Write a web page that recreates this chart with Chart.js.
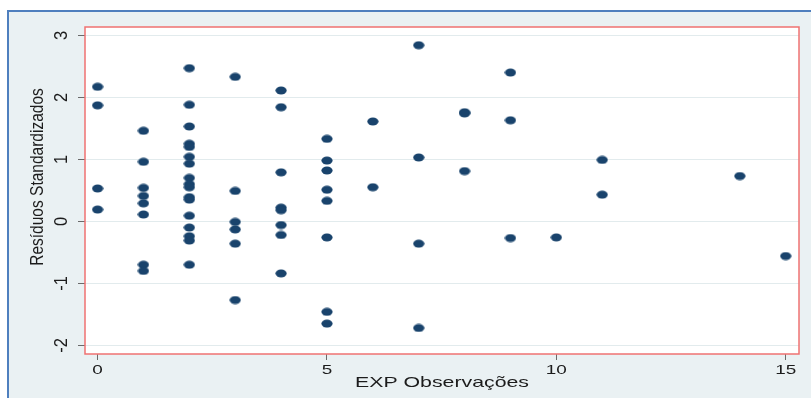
<!DOCTYPE html>
<html>
<head>
<meta charset="utf-8">
<script src="https://cdn.jsdelivr.net/npm/chart.js@4/dist/chart.umd.min.js"></script>
<style>
  html, body { margin: 0; padding: 0; background: #ffffff; }
  #wrap { width: 811px; height: 398px; }
</style>
</head>
<body>
<div id="wrap"><canvas id="c" width="811" height="398"></canvas></div>
<script>
// Experience (years) for each observation
const expYears = [
  0, 0, 0, 0,
  1, 1, 1, 1, 1, 1, 1, 1,
  2, 2, 2, 2, 2, 2, 2, 2, 2, 2, 2, 2, 2, 2, 2, 2, 2,
  3, 3, 3, 3, 3, 3,
  4, 4, 4, 4, 4, 4, 4, 4,
  5, 5, 5, 5, 5, 5, 5, 5,
  6, 6,
  7, 7, 7, 7,
  8, 8, 8,
  9, 9, 9,
  10,
  11, 11,
  14,
  15
];

// Standardized residual for each observation (same order)
const stdResiduals = [
  2.17, 1.87, 0.53, 0.19,
  1.46, 0.96, 0.54, 0.41, 0.29, 0.11, -0.70, -0.80,
  2.47, 1.88, 1.53, 1.25, 1.20, 1.04, 0.93, 0.70, 0.60, 0.55, 0.39, 0.35, 0.09, -0.10, -0.24, -0.31, -0.70,
  2.33, 0.49, -0.01, -0.13, -0.36, -1.27,
  2.11, 1.84, 0.79, 0.22, 0.18, -0.06, -0.22, -0.84,
  1.33, 0.98, 0.82, 0.51, 0.33, -0.26, -1.46, -1.65,
  1.61, 0.55,
  2.84, 1.03, -0.36, -1.72,
  1.76, 1.74, 0.81,
  2.40, 1.63, -0.27,
  -0.26,
  0.99, 0.43,
  0.73,
  -0.56
];

const xTickValues = [0, 5, 10, 15];
const yTickValues = [-2, -1, 0, 1, 2, 3];
const xTitle = 'EXP Observações';
const yTitle = 'Resíduos Standardizados';

const FONT = '"Liberation Sans", Arial, sans-serif';
const MARKER = '#19436c';
const TEXT = '#1c1c1c';

// Elliptical marker
const dot = document.createElement('canvas');
dot.width = 12; dot.height = 9;
(function () {
  const g = dot.getContext('2d');
  g.fillStyle = MARKER;
  g.beginPath();
  g.ellipse(6, 4.5, 5.6, 4, 0, 0, Math.PI * 2);
  g.fill();
})();

const points = expYears.map((x, i) => ({ x: x, y: stdResiduals[i] }));

// Text drawn with a horizontal stretch factor
function stretchText(ctx, str, x, y, size, k, rotate) {
  ctx.save();
  ctx.translate(x, y);
  ctx.scale(k, 1);
  if (rotate) ctx.rotate(-Math.PI / 2);
  ctx.font = size + 'px ' + FONT;
  ctx.fillStyle = TEXT;
  ctx.textAlign = 'center';
  ctx.textBaseline = 'middle';
  ctx.fillText(str, 0, 0);
  ctx.restore();
}

const framePlugin = {
  id: 'frame',
  beforeDraw(chart) {
    const ctx = chart.ctx;
    const a = chart.chartArea;
    ctx.save();
    ctx.fillStyle = '#ffffff';
    ctx.fillRect(0, 0, chart.width, chart.height);
    ctx.fillStyle = '#eaf1f3';
    ctx.fillRect(8, 11, chart.width - 8, chart.height - 11);
    ctx.strokeStyle = '#4f7fbe';
    ctx.lineWidth = 2;
    ctx.beginPath();
    ctx.moveTo(8, chart.height);
    ctx.lineTo(8, 11);
    ctx.lineTo(chart.width, 11);
    ctx.stroke();
    ctx.fillStyle = '#ffffff';
    ctx.fillRect(a.left, a.top, a.right - a.left, a.bottom - a.top);
    ctx.restore();
  },
  afterDraw(chart) {
    const ctx = chart.ctx;
    const a = chart.chartArea;
    const xs = chart.scales.x, ys = chart.scales.y;
    ctx.save();
    ctx.strokeStyle = '#ef7272';
    ctx.lineWidth = 1.5;
    ctx.strokeRect(a.left, a.top, a.right - a.left, a.bottom - a.top);
    ctx.restore();
    xs.ticks.forEach(t => {
      stretchText(ctx, String(t.value), xs.getPixelForValue(t.value), 370, 13.5, 1.4, false);
    });
    ys.ticks.forEach(t => {
      stretchText(ctx, String(t.value), 61.5, ys.getPixelForValue(t.value), 16.5, 1.15, true);
    });
    stretchText(ctx, xTitle, (a.left + a.right) / 2, 383, 15, 1.42, false);
    stretchText(ctx, yTitle, 38, 177, 15.5, 1.15, true);
  }
};

new Chart(document.getElementById('c'), {
  type: 'scatter',
  data: {
    datasets: [{
      data: points,
      pointStyle: dot,
      pointRadius: 5,
      pointHoverRadius: 5,
      backgroundColor: MARKER,
      borderColor: MARKER
    }]
  },
  options: {
    responsive: false,
    devicePixelRatio: 1,
    animation: false,
    events: [],
    layout: { padding: { left: 0, top: 27, right: 12, bottom: 0 } },
    plugins: { legend: { display: false }, tooltip: { enabled: false } },
    scales: {
      x: {
        type: 'linear',
        min: -0.275,
        max: 15.29,
        afterBuildTicks(s) { s.ticks = xTickValues.map(v => ({ value: v })); },
        afterFit(s) { s.height = 44; },
        ticks: { display: false },
        border: { display: false },
        grid: { drawOnChartArea: false, drawTicks: true, tickLength: 6, tickColor: '#6a6a6a', lineWidth: 1 }
      },
      y: {
        type: 'linear',
        min: -2.14,
        max: 3.134,
        afterBuildTicks(s) { s.ticks = yTickValues.map(v => ({ value: v })); },
        afterFit(s) { s.width = 85; },
        ticks: { display: false },
        border: { display: false },
        grid: { color: '#e2ebed', lineWidth: 1, drawTicks: true, tickLength: 7, tickColor: '#6a6a6a' }
      }
    }
  },
  plugins: [framePlugin]
});
</script>
</body>
</html>
